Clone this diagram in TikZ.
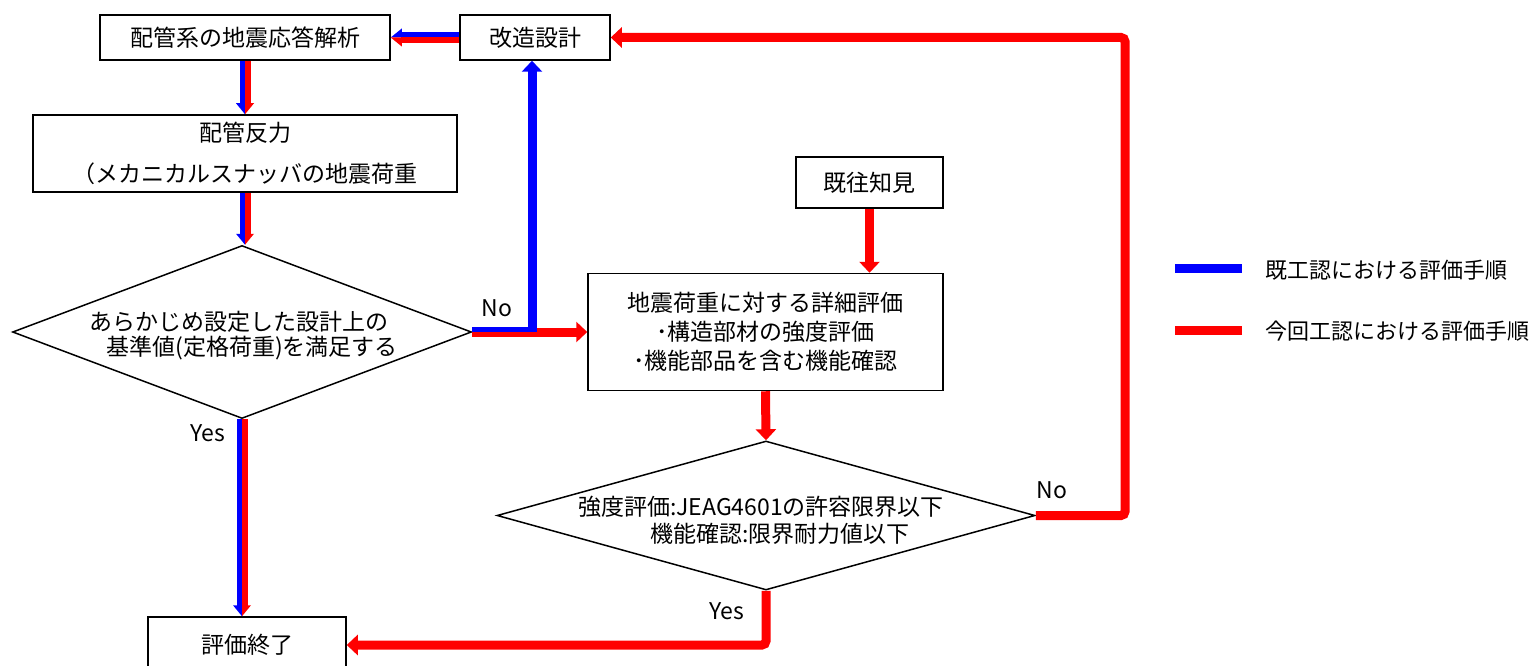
\documentclass[tikz,border=0pt]{standalone}
\usepackage{fontspec}
\setmainfont{Noto Sans CJK JP}
\usetikzlibrary{arrows.meta,shapes.geometric}
\newcommand\fs{\fontsize{23}{28}\selectfont}
\tikzset{
  box/.style={draw=black,line width=1.5pt,fill=white,inner sep=0pt,align=center,font=\fs},
  dia/.style={draw=black,line width=1.5pt,shape=diamond,inner sep=0pt},
  txt/.style={inner sep=0pt,font=\fs},
  redarr/.style={draw=red,line width=9pt,-{Triangle[width=20pt,length=11pt]}},
  bluearr/.style={draw=blue,line width=9pt,-{Triangle[width=20pt,length=11pt]}},
  half/.style={line width=5.5pt},
}
\newcommand\dblV[2]{%
  \draw[half,blue] ([xshift=-2.75pt]#1.south) -- ([xshift=-2.75pt,yshift=10pt]#1.south |- #2.north);
  \draw[half,red] ([xshift=2.75pt]#1.south) -- ([xshift=2.75pt,yshift=10pt]#1.south |- #2.north);
  \fill[blue] (#1.south |- #2.north) -- ([xshift=-9pt,yshift=11pt]#1.south |- #2.north) -- ([yshift=11pt]#1.south |- #2.north) -- cycle;
  \fill[red] (#1.south |- #2.north) -- ([xshift=9pt,yshift=11pt]#1.south |- #2.north) -- ([yshift=11pt]#1.south |- #2.north) -- cycle;}
\begin{document}
\begin{tikzpicture}[x=1pt,y=-1pt]
\clip (0,0) rectangle (1538,666);
\fill[white] (0,0) rectangle (1538,666);
% boxes
\node[box,minimum width=290pt,minimum height=45pt] (sys) at (245,37.5) {配管系の地震応答解析};
\node[box,minimum width=150pt,minimum height=45pt] (mod) at (535,37.5) {改造設計};
\node[box,minimum width=424pt,minimum height=77pt,font=\fontsize{23}{41}\selectfont] (react) at (245,153.5) {配管反力\\（メカニカルスナッバの地震荷重};
\node[dia,minimum width=459pt,minimum height=173pt] (d1) at (242,332) {};
\node[txt] (d1a) at (239,322) {あらかじめ設定した設計上の};
\node[txt] (d1b) at (252,348) {基準値(定格荷重)を満足する};
\node[box,minimum width=198pt,minimum height=56pt] (end) at (247,645) {評価終了};
\node[box,minimum width=147pt,minimum height=51pt] (known) at (869.5,182.5) {既往知見};
\node[box,minimum width=355pt,minimum height=117pt,font=\fontsize{23}{29}\selectfont] (detail) at (765.5,332) {地震荷重に対する詳細評価\\･構造部材の強度評価\\･機能部品を含む機能確認};
\node[dia,minimum width=538pt,minimum height=149pt] (d2) at (766,515.5) {};
\node[txt] (d2a) at (761,507) {強度評価:JEAG4601の許容限界以下};
\node[txt] (d2b) at (780,534) {機能確認:限界耐力値以下};
% labels
\node[txt] (yes1) at (208,433) {Yes};
\node[txt] (no1) at (497,308) {No};
\node[txt] (no2) at (1052,490) {No};
\node[txt] (yes2) at (727,611) {Yes};
% double arrows
\dblV{sys}{react}
\dblV{react}{d1}
\dblV{d1}{end}
\draw[half,blue] ([yshift=2.75pt]mod.west) -- ([xshift=10pt,yshift=2.75pt]sys.east);
\draw[half,red] ([yshift=-2.75pt]mod.west) -- ([xshift=10pt,yshift=-2.75pt]sys.east);
\fill[blue] (sys.east) -- ([xshift=11pt,yshift=9pt]sys.east) -- ([xshift=11pt]sys.east) -- cycle;
\fill[red] (sys.east) -- ([xshift=11pt,yshift=-9pt]sys.east) -- ([xshift=11pt]sys.east) -- cycle;
% single arrows
\coordinate (bc) at (532,332);
\coordinate (rt) at (1125,37.5);
\draw[redarr] (d1.east) -- (d1.east -| detail.west);
\draw[draw=blue,line width=4.6pt] ([yshift=2.3pt]d1.east) -- ([xshift=4.5pt,yshift=2.3pt]bc);
\draw[bluearr] (bc) -- (bc |- mod.south);
\draw[redarr] (known.south) -- (known.south |- detail.north);
\draw[redarr] (detail.south) -- (d2.north);
\draw[redarr,rounded corners=4pt] (d2.east) -| (rt) -- (mod.east);
\draw[redarr,rounded corners=4pt] (d2.south) |- (end.east);
% legend
\coordinate (lb1) at (1175,268);
\coordinate (lb2) at (1242,268);
\coordinate (lr1) at (1175,330);
\coordinate (lr2) at (1242,330);
\draw[draw=blue,line width=9pt] (lb1) -- (lb2);
\draw[draw=red,line width=9pt] (lr1) -- (lr2);
\node[txt,anchor=west,font=\fontsize{22}{26}\selectfont] (lbt) at (1265,270) {既工認における評価手順};
\node[txt,anchor=west,font=\fontsize{22}{26}\selectfont] (lrt) at (1265,331) {今回工認における評価手順};
\end{tikzpicture}
\end{document}
